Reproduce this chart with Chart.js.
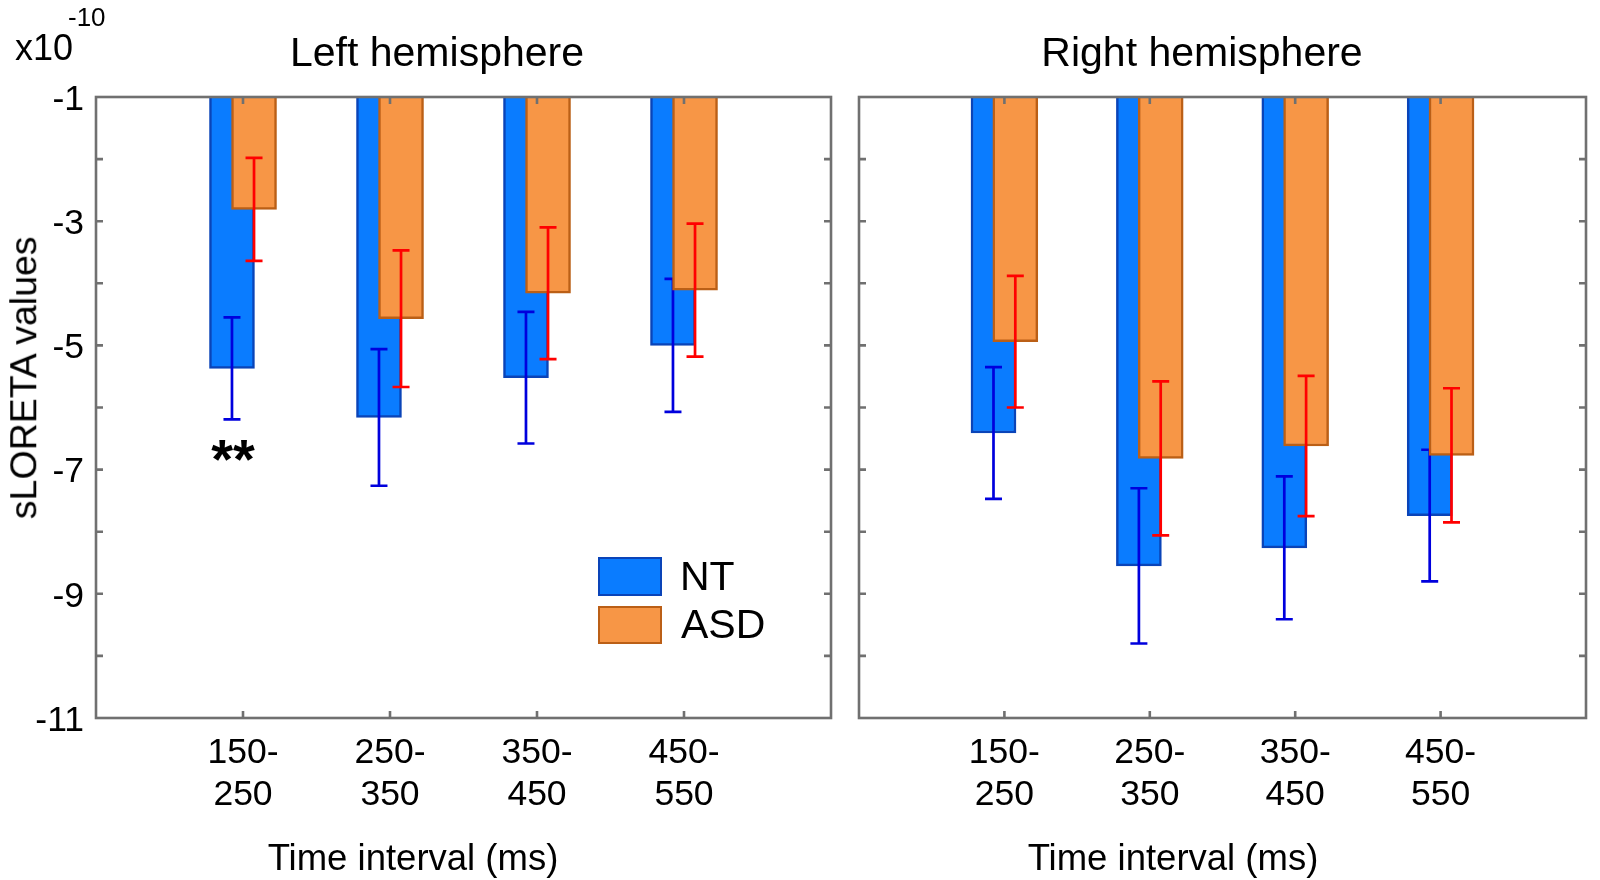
<!DOCTYPE html>
<html>
<head>
<meta charset="utf-8">
<script src="https://cdn.jsdelivr.net/npm/chart.js@4.4.1/dist/chart.umd.min.js"></script>
<style>
  body { margin: 0; background: #fff; width: 1600px; height: 880px; position: relative; overflow: hidden;
         font-family: 'Liberation Sans', Arial, Helvetica, sans-serif; color: #000; }
  canvas { position: absolute; top: 0; }
  .txt { position: absolute; white-space: nowrap; line-height: 1; }
  .center { text-align: center; width: 600px; }
  .swatch { position: absolute; box-sizing: border-box; border-width: 2.5px; border-style: solid; }
</style>
</head>
<body>
<canvas id="leftChart" width="845" height="880" style="left:0"></canvas>
<canvas id="rightChart" width="755" height="880" style="left:845px"></canvas>

<!-- exponent of the y axis -->
<div class="txt" style="left:15px; top:30px; font-size:36px;">x10</div>
<div class="txt" style="left:68px; top:4px; font-size:26px;">-10</div>

<!-- titles -->
<div class="txt center" style="left:137px; top:32px; font-size:41px;">Left hemisphere</div>
<div class="txt center" style="left:902px; top:32px; font-size:41px;">Right hemisphere</div>

<!-- axis labels -->
<div class="txt center" style="left:113px; top:840px; font-size:36.5px;">Time interval (ms)</div>
<div class="txt center" style="left:873px; top:840px; font-size:36.5px;">Time interval (ms)</div>
<div class="txt" style="left:-176px; top:359px; width:400px; text-align:center; font-size:37.5px; transform:rotate(-90deg);">sLORETA values</div>

<!-- legend -->
<div class="swatch" style="left:598px; top:557px; width:64px; height:39px; background:#0a7cff; border-color:#0a44b8;"></div>
<div class="swatch" style="left:598px; top:606px; width:64px; height:38px; background:#f79646; border-color:#bb5f16;"></div>
<div class="txt" style="left:680px; top:556px; font-size:41px;">NT</div>
<div class="txt" style="left:681px; top:604px; font-size:41px;">ASD</div>

<script>
// intervalos de tempo (categorias)
const intervals = ['150-250', '250-350', '350-450', '450-550'];
const tickLabels = [['150-', '250'], ['250-', '350'], ['350-', '450'], ['450-', '550']];
const yTickLabels = [-1, -3, -5, -7, -9, -11];

// valores sLORETA (x10^-10)
const leftNT = [-5.37, -6.16, -5.52, -5.00];
const leftNTErr = [0.82, 1.10, 1.06, 1.07];
const leftASD = [-2.81, -4.57, -4.16, -4.11];
const leftASDErr = [0.83, 1.10, 1.06, 1.07];

const rightNT = [-6.41, -8.55, -8.26, -7.74];
const rightNTErr = [1.06, 1.25, 1.15, 1.06];
const rightASD = [-4.94, -6.82, -6.62, -6.77];
const rightASDErr = [1.06, 1.24, 1.13, 1.08];

// marcas de significância (só no hemisfério esquerdo)
const leftSig = ['**', '', '', ''];
const rightSig = ['', '', '', ''];

const BAR_SHIFT = 0.075;   // deslocamento das barras em relação ao centro da categoria
const AXIS_COLOR = '#707070';

Chart.defaults.font.family = "'Liberation Sans', Arial, Helvetica, sans-serif";
Chart.defaults.color = '#000';

// barras de erro desenhadas logo depois de cada dataset
const errorBarPlugin = {
  id: 'errorBars',
  afterDatasetDraw(chart, args) {
    const ds = chart.data.datasets[args.index];
    if (!ds.errors) return;
    const ctx = chart.ctx;
    const y = chart.scales.y;
    ctx.save();
    ctx.strokeStyle = ds.errorColor;
    ctx.lineWidth = 2.7;
    args.meta.data.forEach((bar, i) => {
      const v = ds.data[i].y;
      const e = ds.errors[i];
      const top = y.getPixelForValue(v + e);
      const bot = y.getPixelForValue(v - e);
      ctx.beginPath();
      ctx.moveTo(bar.x, top); ctx.lineTo(bar.x, bot);
      ctx.moveTo(bar.x - 8.5, top); ctx.lineTo(bar.x + 8.5, top);
      ctx.moveTo(bar.x - 8.5, bot); ctx.lineTo(bar.x + 8.5, bot);
      ctx.stroke();
    });
    ctx.restore();
  }
};

// moldura com ticks para dentro (estilo matlab) + asteriscos
const boxPlugin = {
  id: 'box',
  afterDatasetsDraw(chart) {
    const ctx = chart.ctx;
    const a = chart.chartArea;
    const x = chart.scales.x, y = chart.scales.y;
    const tick = 7;
    ctx.save();
    ctx.strokeStyle = AXIS_COLOR;
    ctx.lineWidth = 2.6;
    ctx.beginPath();
    for (let v = -10; v <= -2; v++) {
      const py = y.getPixelForValue(v);
      ctx.moveTo(a.left, py); ctx.lineTo(a.left + tick, py);
      ctx.moveTo(a.right, py); ctx.lineTo(a.right - tick, py);
    }
    intervals.forEach((c, i) => {
      const px = x.getPixelForValue(i + 1);
      ctx.moveTo(px, a.bottom); ctx.lineTo(px, a.bottom - tick);
      ctx.moveTo(px, a.top); ctx.lineTo(px, a.top + tick);
    });
    ctx.stroke();
    ctx.strokeRect(a.left, a.top, a.right - a.left, a.bottom - a.top);

    const nt = chart.data.datasets[0];
    ctx.fillStyle = '#000';
    ctx.font = "bold 56px 'Liberation Sans', Arial, sans-serif";
    ctx.textAlign = 'center';
    ctx.textBaseline = 'alphabetic';
    chart.options.sig.forEach((s, i) => {
      if (!s) return;
      const bar = chart.getDatasetMeta(0).data[i];
      const py = y.getPixelForValue(nt.data[i].y - nt.errors[i]);
      ctx.fillText(s, bar.x + 1, py + 59);
    });
    ctx.restore();
  }
};

function makeChart(canvasId, nt, ntErr, asd, asdErr, sig, showY) {
  const ctx = document.getElementById(canvasId);
  return new Chart(ctx, {
    type: 'bar',
    data: {
      datasets: [
        {
          label: 'NT',
          data: nt.map((v, i) => ({ x: i + 1 - BAR_SHIFT, y: v })),
          errors: ntErr,
          errorColor: '#0000dd',
          backgroundColor: '#0a7cff',
          borderColor: '#0a44b8',
          borderWidth: 2.5,
          order: 1
        },
        {
          label: 'ASD',
          data: asd.map((v, i) => ({ x: i + 1 + BAR_SHIFT, y: v })),
          errors: asdErr,
          errorColor: '#ff0000',
          backgroundColor: '#f79646',
          borderColor: '#bb5f16',
          borderWidth: 2.5,
          order: 0
        }
      ]
    },
    options: {
      responsive: false,
      animation: false,
      sig: sig,
      grouped: false,
      barThickness: 45,
      layout: { padding: { top: 97, right: showY ? 10 : 7, bottom: 42, left: 0 } },
      plugins: {
        legend: { display: false },
        tooltip: { enabled: false },
        title: { display: false }
      },
      scales: {
        x: {
          type: 'linear',
          min: 0,
          max: 5,
          offset: false,
          grid: { display: false, drawTicks: false },
          border: { display: false },
          afterFit: s => { s.height = 120; },
          ticks: {
            stepSize: 1,
            maxRotation: 0,
            autoSkip: false,
            padding: 14,
            font: { size: 35.5, lineHeight: 1.18 },
            callback: v => tickLabels[v - 1] || ''
          }
        },
        y: {
          min: -11,
          max: -1,
          beginAtZero: false,
          grid: { display: false, drawTicks: false },
          border: { display: false },
          afterFit: s => { s.width = showY ? 96 : 10; },
          ticks: {
            display: showY,
            stepSize: 1,
            padding: 12,
            labelOffset: 3,
            font: { size: 35.5 },
            callback: v => yTickLabels.includes(v) ? String(v) : ''
          }
        }
      }
    },
    plugins: [errorBarPlugin, boxPlugin]
  });
}

makeChart('leftChart', leftNT, leftNTErr, leftASD, leftASDErr, leftSig, true);
makeChart('rightChart', rightNT, rightNTErr, rightASD, rightASDErr, rightSig, false);
</script>
</body>
</html>
